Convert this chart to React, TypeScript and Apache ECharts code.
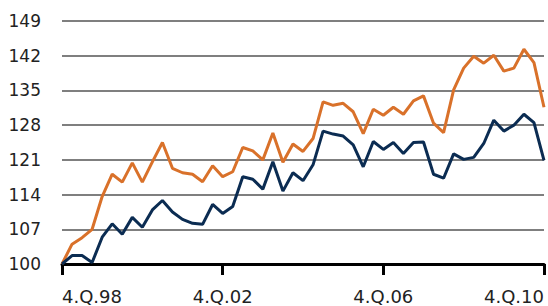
import React, { useEffect, useRef } from "react";
import * as echarts from "echarts";

const quarters: string[] = [
  "4.Q.98",
  "1.Q.99", "2.Q.99", "3.Q.99", "4.Q.99",
  "1.Q.00", "2.Q.00", "3.Q.00", "4.Q.00",
  "1.Q.01", "2.Q.01", "3.Q.01", "4.Q.01",
  "1.Q.02", "2.Q.02", "3.Q.02", "4.Q.02",
  "1.Q.03", "2.Q.03", "3.Q.03", "4.Q.03",
  "1.Q.04", "2.Q.04", "3.Q.04", "4.Q.04",
  "1.Q.05", "2.Q.05", "3.Q.05", "4.Q.05",
  "1.Q.06", "2.Q.06", "3.Q.06", "4.Q.06",
  "1.Q.07", "2.Q.07", "3.Q.07", "4.Q.07",
  "1.Q.08", "2.Q.08", "3.Q.08", "4.Q.08",
  "1.Q.09", "2.Q.09", "3.Q.09", "4.Q.09",
  "1.Q.10", "2.Q.10", "3.Q.10", "4.Q.10",
];

const orangeSeries: number[] = [
  100.0, 104.0, 105.3, 107.0, 113.6, 118.1, 116.5, 120.4, 116.5, 120.6,
  124.5, 119.3, 118.4, 118.1, 116.6, 119.8, 117.6, 118.6, 123.5, 122.8,
  121.0, 126.4, 120.5, 124.2, 122.7, 125.3, 132.7, 132.0, 132.4, 130.7,
  126.3, 131.2, 130.0, 131.6, 130.2, 132.9, 133.9, 128.4, 126.5, 135.1,
  139.5, 141.9, 140.5, 142.1, 138.9, 139.5, 143.3, 140.6, 131.6,
];

const navySeries: number[] = [
  100.0, 101.7, 101.7, 100.3, 105.4, 108.1, 106.0, 109.4, 107.4, 110.9,
  112.8, 110.5, 109.0, 108.2, 108.0, 112.0, 110.2, 111.6, 117.6, 117.1,
  115.1, 120.6, 114.7, 118.4, 116.8, 120.0, 126.8, 126.2, 125.8, 124.0,
  119.6, 124.7, 123.1, 124.5, 122.3, 124.5, 124.6, 118.1, 117.3, 122.2,
  121.1, 121.5, 124.3, 129.0, 126.8, 128.0, 130.2, 128.5, 120.9,
];

const yMinValue = 100;
const yMaxValue = 149;
const yStep = 7;
const xLabelEvery = 16;

export default function App() {
  const ref = useRef<HTMLDivElement>(null);

  useEffect(() => {
    document.body.style.margin = "0";
    if (!ref.current) return;
    const chart = echarts.init(ref.current, null, { renderer: "svg" });
    const shift = (v: number) => v - yMinValue;
    chart.setOption({
      animation: false,
      grid: { left: 62, right: 4, top: 21, bottom: 42, containLabel: false },
      xAxis: {
        type: "category",
        data: quarters,
        boundaryGap: false,
        axisLine: { show: true, lineStyle: { color: "#000", width: 3 } },
        axisTick: {
          show: true,
          interval: (i: number) => i % xLabelEvery === 0,
          length: 11,
          lineStyle: { color: "#000", width: 3 },
        },
        axisLabel: {
          interval: (i: number) => i % xLabelEvery === 0,
          color: "#222",
          fontFamily: "DejaVu Sans",
          fontSize: 18,
          margin: 23,
          alignMinLabel: "left",
          alignMaxLabel: "right",
        },
        splitLine: { show: false },
      },
      yAxis: {
        type: "value",
        min: 0,
        max: yMaxValue - yMinValue,
        interval: yStep,
        axisLine: { show: false },
        axisTick: { show: false },
        axisLabel: {
          formatter: (v: number) => String(v + yMinValue),
          color: "#222",
          fontFamily: "DejaVu Sans",
          fontSize: 17,
          margin: 21,
        },
        splitLine: { show: true, lineStyle: { color: "#555", width: 1.5 } },
      },
      series: [
        {
          type: "line",
          data: orangeSeries.map(shift),
          symbol: "none",
          lineStyle: { color: "#D9712A", width: 3 },
          z: 3,
        },
        {
          type: "line",
          data: navySeries.map(shift),
          symbol: "none",
          lineStyle: { color: "#0B2C52", width: 3 },
          z: 4,
        },
      ],
    });
    return () => chart.dispose();
  }, []);

  return <div ref={ref} style={{ width: 548, height: 306 }} />;
}
